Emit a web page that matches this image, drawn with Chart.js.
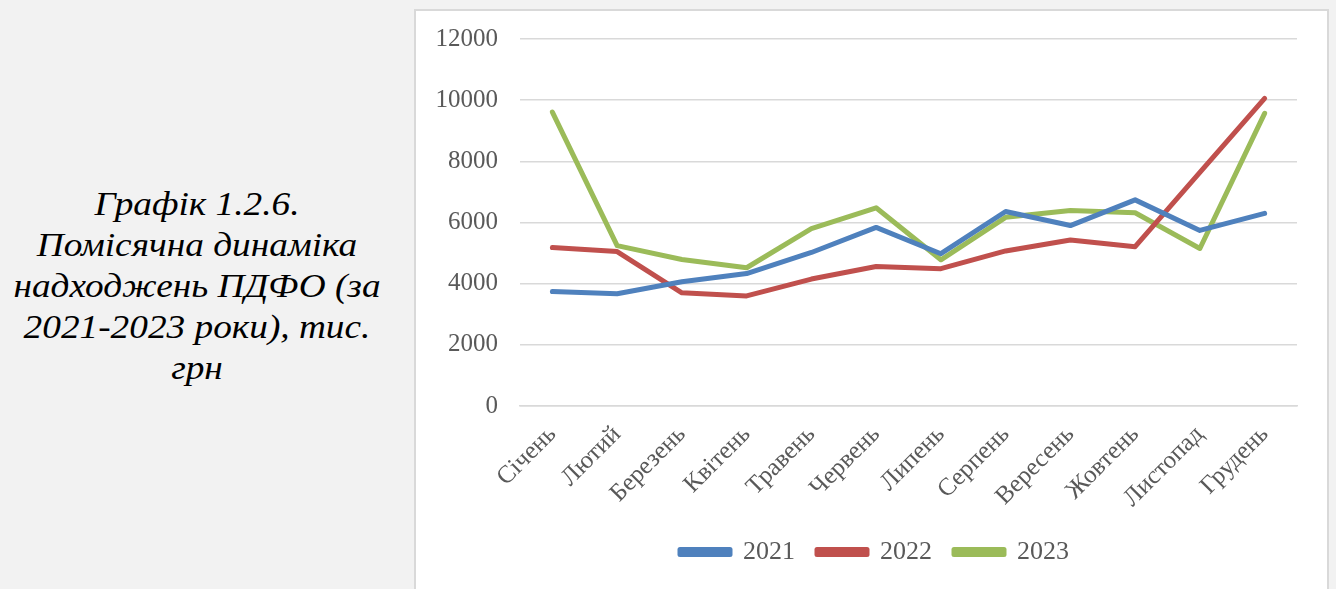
<!DOCTYPE html>
<html>
<head>
<meta charset="utf-8">
<script src="https://cdn.jsdelivr.net/npm/chart.js"></script>
<style>
    html, body { margin: 0; padding: 0; }
    body { width: 1336px; height: 589px; background: #f2f2f2; position: relative; overflow: hidden; }
    #caption {
        position: absolute; left: 0; top: 184px; width: 394px;
        font-family: "Liberation Serif", serif; font-style: italic;
        font-size: 33px; line-height: 41px; text-align: center; color: #000;
        transform: scaleX(1.13); transform-origin: 197px 0;
    }
    #box {
        position: absolute; left: 414px; top: 9px; width: 911px; height: 600px;
        border: 2px solid #d9d9d9; background: #fff;
    }
    #wrap { position: absolute; left: 0; top: 0; width: 909px; height: 578px; }
</style>
</head>
<body>
<div id="caption">Графік 1.2.6.<br>Помісячна динаміка<br>надходжень ПДФО (за<br>2021-2023 роки), тис.<br>грн</div>
<div id="box"><div id="wrap"><canvas id="myChart"></canvas></div></div>
<script>
// місяці
var months = ['Січень', 'Лютий', 'Березень', 'Квітень', 'Травень', 'Червень',
    'Липень', 'Серпень', 'Вересень', 'Жовтень', 'Листопад', 'Грудень'];

// надходження, тис. грн
var y2021 = [3740, 3670, 4060, 4330, 5020, 5840, 4980, 6360, 5900, 6740, 5740, 6300];
var y2022 = [5180, 5050, 3700, 3600, 4150, 4560, 4490, 5070, 5430, 5210, 7640, 10060];
var y2023 = [9610, 5245, 4790, 4520, 5800, 6480, 4780, 6170, 6390, 6320, 5150, 9570];

var yTicks = [0, 2000, 4000, 6000, 8000, 10000, 12000];

function line(label, data, color) {
    return {
        label: label,
        data: data,
        borderColor: color,
        backgroundColor: color,
        borderWidth: 5,
        borderCapStyle: 'round',
        borderJoinStyle: 'round',
        pointRadius: 0,
        tension: 0
    };
}

// легенда трохи правіше, як в оригіналі
var shiftLegend = {
    id: 'shiftLegend',
    afterLayout: function (chart) {
        chart.legend.left += 18;
        chart.legend.right += 18;
    }
};

window.addEventListener('load', function () {
    var ctx = document.getElementById('myChart').getContext('2d');
    var font = { family: '"Liberation Serif", serif', size: 25 };

    new Chart(ctx, {
        type: 'line',
        data: {
            labels: months,
            datasets: [
                line('2021', y2021, '#4f81bd'),
                line('2022', y2022, '#c0504d'),
                line('2023', y2023, '#9bbb59')
            ]
        },
        plugins: [shiftLegend],
        options: {
            responsive: true,
            maintainAspectRatio: false,
            animation: false,
            layout: { padding: { top: 28, right: 28, left: 0, bottom: 14 } },
            plugins: {
                legend: {
                    position: 'bottom',
                    labels: {
                        color: '#595959',
                        font: { family: '"Liberation Serif", serif', size: 26 },
                        boxWidth: 50,
                        boxHeight: 5,
                        padding: 22
                    }
                },
                tooltip: { enabled: false }
            },
            scales: {
                x: {
                    offset: true,
                    grid: { display: false },
                    border: { color: '#d9d9d9', width: 1.5 },
                    ticks: {
                        color: '#595959',
                        font: font,
                        minRotation: 45,
                        maxRotation: 45,
                        padding: 6
                    },
                    afterFit: function (s) { s.height = 111; }
                },
                y: {
                    min: 0,
                    max: 12000,
                    afterBuildTicks: function (s) {
                        s.ticks = yTicks.map(function (v) { return { value: v }; });
                    },
                    grid: { color: '#d9d9d9', lineWidth: 1.5, drawTicks: false },
                    border: { display: false },
                    ticks: {
                        color: '#595959',
                        font: font,
                        padding: 22,
                        callback: function (v) { return String(v); }
                    },
                    afterFit: function (s) {
                        s.width = 104;
                        s.paddingTop = 0;
                        s.paddingBottom = 0;
                    }
                }
            }
        }
    });
});
</script>
</body>
</html>
